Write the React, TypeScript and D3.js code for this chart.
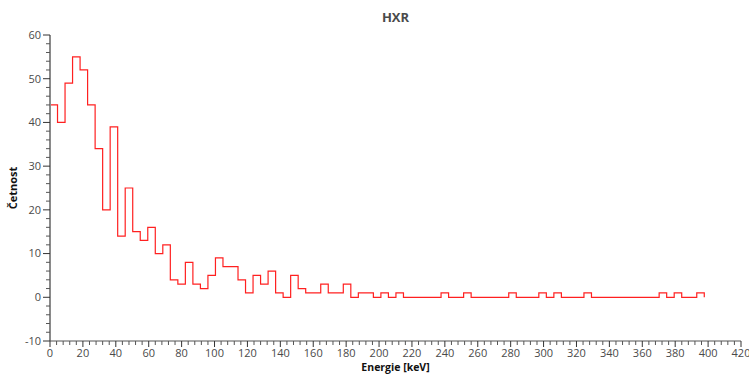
import React from 'react';
import * as d3 from 'd3';

const width = 749;
const height = 375;
const margin = {top: 35, right: 8, bottom: 34, left: 50};

// histogram counts, bins of equal width starting at 0 keV
const binWidth = 4.571;
const counts = [
    44, 40, 49, 55, 52, 44, 34, 20, 39, 14,
    25, 15, 13, 16, 10, 12, 4, 3, 8, 3,
    2, 5, 9, 7, 7, 4, 1, 5, 3, 6,
    1, 0, 5, 2, 1, 1, 3, 1, 1, 3,
    0, 1, 1, 0, 1, 0, 1, 0, 0, 0,
    0, 0, 1, 0, 0, 1, 0, 0, 0, 0,
    0, 1, 0, 0, 0, 1, 0, 1, 0, 0,
    0, 1, 0, 0, 0, 0, 0, 0, 0, 0,
    0, 1, 0, 1, 0, 0, 1,
];
const xTicks = d3.range(0, 421, 20);
const yTicks = d3.range(-10, 61, 10);
const title = 'HXR';
const xLabel = 'Energie [keV]';
const yLabel = 'Četnost';

const red = '#ff2020';
const axisGray = '#8a8a8a';
const textGray = '#4a4a4a';
const font = '"Open Sans", "DejaVu Sans", sans-serif';

export default function App() {
    const xScale = d3.scaleLinear().domain([0, 420]).range([margin.left, width - margin.right]);
    const yScale = d3.scaleLinear().domain([-10, 60]).range([height - margin.bottom, margin.top]);

    const pts: [number, number][] = [[0, 0]];
    counts.forEach((c, i) => pts.push([i * binWidth, c]));
    pts.push([counts.length * binWidth, counts[counts.length - 1]]);
    pts.push([counts.length * binWidth, 0]);
    const line = d3.line<[number, number]>()
        .x(d => xScale(d[0]))
        .y(d => yScale(d[1]))
        .curve(d3.curveStepAfter);

    const xMinor = d3.range(0, 421, 4).filter(v => v % 20 !== 0);
    const yMinor = d3.range(-10, 61, 2).filter(v => v % 10 !== 0);
    const x0 = margin.left;
    const yb = height - margin.bottom;

    return (
        <svg width={width} height={height} style={{position: 'absolute', left: 0, top: 0, background: '#fff'}}>
            <text x={(x0 + width - margin.right) / 2} y={22} textAnchor='middle' fontFamily={font}
                  fontWeight='bold' fontSize={13} fill={textGray}>{title}</text>
            <path d={line(pts) || ''} fill='none' stroke={red} strokeWidth={1.2}/>
            {/* y axis */}
            <line x1={x0} x2={x0} y1={margin.top} y2={yb} stroke={axisGray} strokeWidth={2}/>
            {yTicks.map(t => (
                <g key={'y' + t}>
                    <line x1={x0 - 7} x2={x0} y1={yScale(t)} y2={yScale(t)} stroke='#333' strokeWidth={1}/>
                    <text x={x0 - 9} y={yScale(t)} dy='0.35em' textAnchor='end' fontFamily={font}
                          fontSize={11} fill={textGray}>{t}</text>
                </g>
            ))}
            {yMinor.map(t => (
                <line key={'ym' + t} x1={x0 - 4} x2={x0} y1={yScale(t)} y2={yScale(t)} stroke='#555'
                      strokeWidth={1}/>
            ))}
            {/* x axis */}
            <line x1={x0} x2={width - margin.right} y1={yb} y2={yb} stroke='#555' strokeWidth={1}/>
            {xTicks.map(t => (
                <g key={'x' + t}>
                    <line x1={xScale(t)} x2={xScale(t)} y1={yb} y2={yb + 6} stroke='#333' strokeWidth={1}/>
                    <text x={xScale(t)} y={yb + 16} textAnchor='middle' fontFamily={font}
                          fontSize={11} fill={textGray}>{t}</text>
                </g>
            ))}
            {xMinor.map(t => (
                <line key={'xm' + t} x1={xScale(t)} x2={xScale(t)} y1={yb} y2={yb + 4} stroke='#555'
                      strokeWidth={1}/>
            ))}
            <text x={(x0 + width - margin.right) / 2} y={371} textAnchor='middle' fontFamily={font}
                  fontWeight='bold' fontSize={10.5} fill='#111'>{xLabel}</text>
            <text transform={`translate(17, ${(margin.top + yb) / 2}) rotate(-90)`} textAnchor='middle'
                  fontFamily={font} fontWeight='bold' fontSize={11} fill='#111'>{yLabel}</text>
        </svg>
    );
}
